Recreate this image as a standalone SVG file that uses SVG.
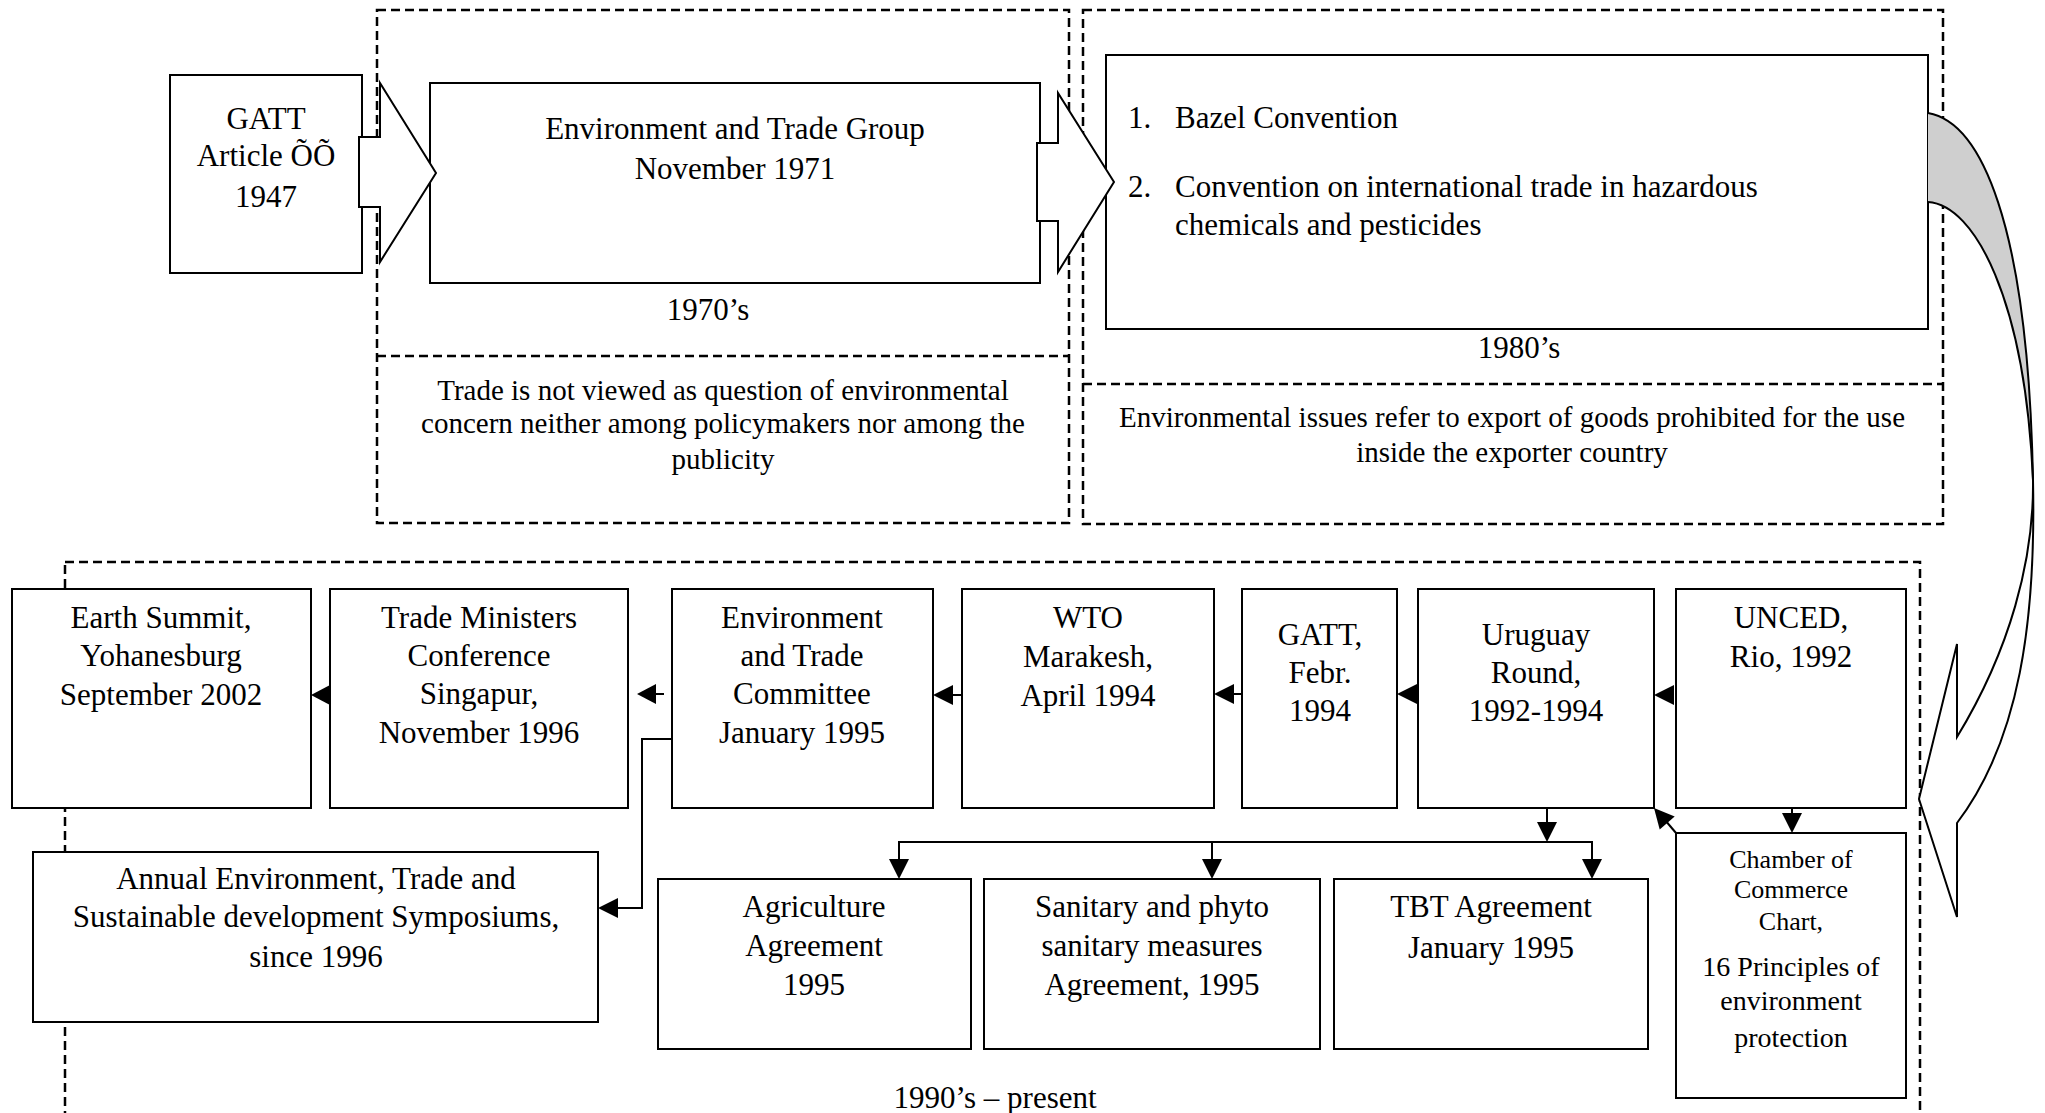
<svg xmlns="http://www.w3.org/2000/svg" width="2045" height="1113" viewBox="0 0 2045 1113">
<style>
.bg{fill:#ffffff}
.dash{fill:none;stroke:#000;stroke-width:2.5;stroke-dasharray:9 5}
.box{fill:#fff;stroke:#000;stroke-width:2}
.blk{fill:#fff;stroke:#000;stroke-width:2;stroke-linejoin:miter}
.ln{fill:none;stroke:#000;stroke-width:2}
.ah{fill:#000;stroke:none}
text{font-family:"Liberation Serif","Times New Roman",serif;font-size:31px;fill:#000}
.c{text-anchor:middle}
.d{font-size:29px}
.s{font-size:26px}
.m{font-size:28px}
</style>
<rect class="bg" x="0" y="0" width="2045" height="1113"/>

<g id="periods">
  <g id="period-1970s">
    <rect class="dash" x="377" y="10" width="692" height="513"/>
    <line class="dash" x1="377" y1="356" x2="1069" y2="356"/>
    <text class="c" x="708" y="320">1970’s</text>
    <text class="c d" x="723" y="400">Trade is not viewed as question of environmental</text>
    <text class="c d" x="723" y="433">concern neither among policymakers nor among the</text>
    <text class="c d" x="723" y="469">publicity</text>
  </g>
  <g id="period-1980s">
    <rect class="dash" x="1083" y="10" width="860" height="514"/>
    <line class="dash" x1="1083" y1="384" x2="1943" y2="384"/>
    <text class="c" x="1519" y="358">1980’s</text>
    <text class="c d" x="1512" y="427">Environmental issues refer to export of goods prohibited for the use</text>
    <text class="c d" x="1512" y="462">inside the exporter country</text>
  </g>
  <g id="period-1990s">
    <rect class="dash" x="65" y="562" width="1855" height="580"/>
    <text class="c" x="995" y="1108">1990’s – present</text>
  </g>
</g>

<g id="n-gatt1947">
  <rect class="box" x="170" y="75" width="192" height="198"/>
  <text class="c" x="266" y="129">GATT</text>
  <text class="c" x="266" y="166">Article ÕÕ</text>
  <text class="c" x="266" y="207">1947</text>
</g>
<g id="n-etg">
  <rect class="box" x="430" y="83" width="610" height="200"/>
  <text class="c" x="735" y="139">Environment and Trade Group</text>
  <text class="c" x="735" y="179">November 1971</text>
</g>
<g id="n-conventions">
  <rect class="box" x="1106" y="55" width="822" height="274"/>
  <text x="1128" y="128">1.</text>
  <text x="1175" y="128">Bazel Convention</text>
  <text x="1128" y="197">2.</text>
  <text x="1175" y="197">Convention on international trade in hazardous</text>
  <text x="1175" y="235">chemicals and pesticides</text>
</g>

<g id="n-earth">
  <rect class="box" x="12" y="589" width="299" height="219"/>
  <text class="c" x="161" y="628">Earth Summit,</text>
  <text class="c" x="161" y="666">Yohanesburg</text>
  <text class="c" x="161" y="705">September 2002</text>
</g>
<g id="n-tmc">
  <rect class="box" x="330" y="589" width="298" height="219"/>
  <text class="c" x="479" y="628">Trade Ministers</text>
  <text class="c" x="479" y="666">Conference</text>
  <text class="c" x="479" y="704">Singapur,</text>
  <text class="c" x="479" y="743">November 1996</text>
</g>
<g id="n-etc">
  <rect class="box" x="672" y="589" width="261" height="219"/>
  <text class="c" x="802" y="628">Environment</text>
  <text class="c" x="802" y="666">and Trade</text>
  <text class="c" x="802" y="704">Committee</text>
  <text class="c" x="802" y="743">January 1995</text>
</g>
<g id="n-wto">
  <rect class="box" x="962" y="589" width="252" height="219"/>
  <text class="c" x="1088" y="628">WTO</text>
  <text class="c" x="1088" y="667">Marakesh,</text>
  <text class="c" x="1088" y="706">April 1994</text>
</g>
<g id="n-gatt1994">
  <rect class="box" x="1242" y="589" width="155" height="219"/>
  <text class="c" x="1320" y="645">GATT,</text>
  <text class="c" x="1320" y="683">Febr.</text>
  <text class="c" x="1320" y="721">1994</text>
</g>
<g id="n-uruguay">
  <rect class="box" x="1418" y="589" width="236" height="219"/>
  <text class="c" x="1536" y="645">Uruguay</text>
  <text class="c" x="1536" y="683">Round,</text>
  <text class="c" x="1536" y="721">1992-1994</text>
</g>
<g id="n-unced">
  <rect class="box" x="1676" y="589" width="230" height="219"/>
  <text class="c" x="1791" y="628">UNCED,</text>
  <text class="c" x="1791" y="667">Rio, 1992</text>
</g>
<g id="n-chamber">
  <rect class="box" x="1676" y="833" width="230" height="265"/>
  <text class="c s" x="1791" y="868">Chamber of</text>
  <text class="c s" x="1791" y="898">Commerce</text>
  <text class="c s" x="1791" y="930">Chart,</text>
  <text class="c m" x="1791" y="976">16 Principles of</text>
  <text class="c m" x="1791" y="1010">environment</text>
  <text class="c m" x="1791" y="1047">protection</text>
</g>
<g id="n-annual">
  <rect class="box" x="33" y="852" width="565" height="170"/>
  <text class="c" x="316" y="889">Annual Environment, Trade and</text>
  <text class="c" x="316" y="927">Sustainable development Symposiums,</text>
  <text class="c" x="316" y="967">since 1996</text>
</g>
<g id="n-agri">
  <rect class="box" x="658" y="879" width="313" height="170"/>
  <text class="c" x="814" y="917">Agriculture</text>
  <text class="c" x="814" y="956">Agreement</text>
  <text class="c" x="814" y="995">1995</text>
</g>
<g id="n-sps">
  <rect class="box" x="984" y="879" width="336" height="170"/>
  <text class="c" x="1152" y="917">Sanitary and phyto</text>
  <text class="c" x="1152" y="956">sanitary measures</text>
  <text class="c" x="1152" y="995">Agreement, 1995</text>
</g>
<g id="n-tbt">
  <rect class="box" x="1334" y="879" width="314" height="170"/>
  <text class="c" x="1491" y="917">TBT Agreement</text>
  <text class="c" x="1491" y="958">January 1995</text>
</g>

<g id="connectors">
  <polygon class="blk" points="359,137 380,137 380,83 436,173 380,262 380,207 359,207"/>
  <polygon class="blk" points="1037,143 1058,143 1058,93 1114,182 1058,272 1058,221 1037,221"/>

  <path d="M1928,113 C1980,122 2028,220 2033,480 C2025,300 1975,205 1928,202 Z" fill="#cfcfcf" stroke="none"/>
  <path d="M2033,480 C2034,560 2010,650 1957,737 L1957,644 L1919,799 L1957,917 L1957,823 C2020,740 2036,620 2033,480 Z" fill="#fff" stroke="#000" stroke-width="2" stroke-linejoin="miter"/>
  <path class="ln" d="M1928,113 C1980,122 2028,220 2033,480"/>
  <path class="ln" d="M1928,202 C1975,205 2025,300 2033,480"/>

  <polygon class="ah" points="311,695 330,685 330,705"/>
  <line class="ln" x1="652" y1="694" x2="664" y2="694"/>
  <polygon class="ah" points="637,694 656,684 656,704"/>
  <line class="ln" x1="950" y1="695" x2="962" y2="695"/>
  <polygon class="ah" points="933,695 953,685 953,705"/>
  <line class="ln" x1="1230" y1="694" x2="1242" y2="694"/>
  <polygon class="ah" points="1214,694 1234,684 1234,704"/>
  <polygon class="ah" points="1397,694 1417,684 1417,704"/>
  <polygon class="ah" points="1654,695 1674,685 1674,705"/>

  <polyline class="ln" points="672,739 642,739 642,908 614,908"/>
  <polygon class="ah" points="598,908 618,898 618,918"/>

  <line class="ln" x1="1547" y1="808" x2="1547" y2="825"/>
  <polygon class="ah" points="1537,822 1557,822 1547,842"/>
  <polyline class="ln" points="899,862 899,842 1592,842 1592,862"/>
  <line class="ln" x1="1212" y1="842" x2="1212" y2="862"/>
  <polygon class="ah" points="889,859 909,859 899,879"/>
  <polygon class="ah" points="1202,859 1222,859 1212,879"/>
  <polygon class="ah" points="1582,859 1602,859 1592,879"/>

  <line class="ln" x1="1792" y1="808" x2="1792" y2="816"/>
  <polygon class="ah" points="1782,813 1802,813 1792,833"/>

  <line class="ln" x1="1676" y1="833" x2="1665" y2="820"/>
  <polygon class="ah" points="1654,808 1674.7,816.4 1659.7,829.6"/>
</g>
</svg>
